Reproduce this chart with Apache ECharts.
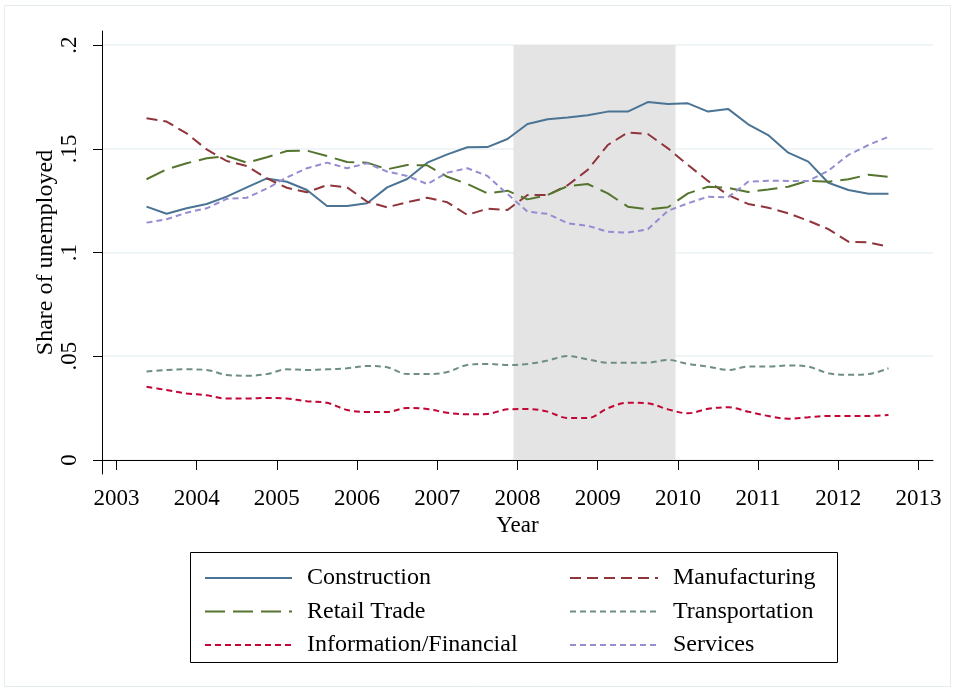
<!DOCTYPE html>
<html>
<head>
<meta charset="utf-8">
<script src="https://cdn.jsdelivr.net/npm/echarts@6/dist/echarts.min.js"></script>
<style>
  html, body { margin: 0; padding: 0; background: #fff; }
  #chart { width: 955px; height: 691px; }
</style>
</head>
<body>
<div id="chart"></div>
<script>
// quarter mid-points
var quarters = [2003.375, 2003.625, 2003.875,
    2004.125, 2004.375, 2004.625, 2004.875,
    2005.125, 2005.375, 2005.625, 2005.875,
    2006.125, 2006.375, 2006.625, 2006.875,
    2007.125, 2007.375, 2007.625, 2007.875,
    2008.125, 2008.375, 2008.625, 2008.875,
    2009.125, 2009.375, 2009.625, 2009.875,
    2010.125, 2010.375, 2010.625, 2010.875,
    2011.125, 2011.375, 2011.625, 2011.875,
    2012.125, 2012.375, 2012.625];

var construction = [.1221, .1187, .1213, .1234, .1269, .1314, .1357, .1341, .1301, .1224,
    .1224, .1237, .1314, .1354, .1433, .1473, .1507, .1508, .1547, .1619,
    .1642, .1651, .1661, .1679, .1679, .1725, .1716, .1719, .1679, .1692,
    .1618, .1566, .1481, .1438, .1336, .1301, .1283, .1283];
var manufacturing = [.1647, .1631, .1574, .1497, .1441, .1417, .1357, .1312, .1290, .1325,
    .1314, .1245, .1218, .1242, .1264, .1242, .1181, .1211, .1205, .1277,
    .1277, .1324, .1398, .1518, .1578, .1571, .1502, .1422, .1345, .1277,
    .1234, .1216, .1189, .1153, .1113, .1052, .1049, .1028];
var retailTrade = [.1353, .1401, .1430, .1454, .1465, .1433, .1459, .1489, .1491, .1465,
    .1436, .1433, .1401, .1422, .1420, .1365, .1330, .1285, .1298, .1256,
    .1277, .1320, .1330, .1285, .1221, .1208, .1218, .1285, .1317, .1312,
    .1292, .1304, .1317, .1346, .1341, .1353, .1375, .1365];
var transportation = [.0426, .0434, .0437, .0434, .0410, .0406, .0414, .0437, .0434, .0437,
    .0442, .0453, .0447, .0414, .0414, .0424, .0458, .0463, .0458, .0463,
    .0479, .0501, .0485, .0469, .0469, .0469, .0482, .0463, .0450, .0434,
    .0450, .0450, .0456, .0450, .0418, .0411, .0414, .0442];
var infoFinancial = [.0353, .0337, .0321, .0312, .0296, .0296, .0299, .0296, .0283, .0276,
    .0241, .0231, .0231, .0251, .0246, .0228, .0220, .0222, .0244, .0246,
    .0233, .0202, .0202, .0249, .0276, .0273, .0244, .0225, .0247, .0254,
    .0233, .0212, .0199, .0206, .0212, .0212, .0212, .0217];
var services = [.1144, .1160, .1192, .1213, .1259, .1264, .1308, .1362, .1406, .1433,
    .1406, .1430, .1390, .1369, .1330, .1385, .1406, .1369, .1282, .1197,
    .1186, .1141, .1129, .1100, .1096, .1112, .1201, .1237, .1269, .1266,
    .1341, .1346, .1345, .1345, .1394, .1470, .1518, .1558];

var recession = [2007.95, 2009.97];
var xTicks = [2003, 2004, 2005, 2006, 2007, 2008, 2009, 2010, 2011, 2012, 2013];
var yTicks = [0, 0.05, 0.1, 0.15, 0.2];
var yTickLabels = ['0', '.05', '.1', '.15', '.2'];

var FONT = '"Liberation Serif", "DejaVu Serif", serif';

function pairs(values) {
    return values.map(function (v, i) { return [quarters[i], v]; });
}

function lineSeries(name, values, color, dash, smooth) {
    return {
        name: name,
        type: 'line',
        data: pairs(values),
        symbol: 'none',
        smooth: smooth || false,
        color: color,
        lineStyle: { color: color, width: 2, type: dash },
        z: 3
    };
}

var legendText = { fontFamily: FONT, fontSize: 24, color: '#000', padding: [0, 0, 0, 10] };

var chart = echarts.init(document.getElementById('chart'));

chart.setOption({
    animation: false,
    backgroundColor: '#fff',
    textStyle: { fontFamily: FONT },
    grid: { left: 102, right: 22, top: 31, bottom: 217 },
    xAxis: {
        type: 'value',
        min: 2002.82,
        max: 2013.18,
        name: 'Year',
        nameLocation: 'middle',
        nameGap: 40,
        nameTextStyle: { fontFamily: FONT, fontSize: 23, color: '#000' },
        axisLine: { show: true, lineStyle: { color: '#000', width: 1 } },
        axisTick: { show: true, length: 10, customValues: xTicks, lineStyle: { color: '#000' } },
        axisLabel: {
            customValues: xTicks,
            fontFamily: FONT, fontSize: 23, color: '#000', margin: 13,
            formatter: function (v) { return String(v); }
        },
        splitLine: { show: false }
    },
    yAxis: {
        type: 'value',
        min: -0.00675,
        max: 0.20675,
        name: 'Share of unemployed',
        nameLocation: 'middle',
        nameGap: 44,
        nameMoveOverlap: false,
        nameTextStyle: { fontFamily: FONT, fontSize: 24, color: '#000' },
        axisLine: { show: true, lineStyle: { color: '#000', width: 1 } },
        axisTick: { show: true, length: 9, customValues: yTicks, lineStyle: { color: '#000' } },
        axisLabel: {
            customValues: yTicks,
            rotate: 90,
            fontFamily: FONT, fontSize: 23, color: '#000', margin: 21,
            formatter: function (v) {
                var k = yTicks.findIndex(function (t) { return Math.abs(t - v) < 1e-9; });
                return k >= 0 ? yTickLabels[k] : '';
            }
        },
        splitLine: { show: true, lineStyle: { color: '#eaf1f3', width: 1.5 } }
    },
    legend: [{
        orient: 'vertical',
        left: 199,
        top: 561,
        itemWidth: 87,
        itemHeight: 14,
        itemGap: 9.5,
        itemStyle: { opacity: 0 },
        data: ['Construction', 'Retail Trade', 'Information/Financial'],
        textStyle: legendText
    }, {
        orient: 'vertical',
        left: 564,
        top: 561,
        itemWidth: 88,
        itemHeight: 14,
        itemGap: 9.5,
        itemStyle: { opacity: 0 },
        data: ['Manufacturing', 'Transportation', 'Services'],
        textStyle: legendText
    }],
    graphic: [{
        type: 'rect',
        shape: { x: 4.5, y: 5.5, width: 946, height: 681 },
        style: { fill: 'none', stroke: '#e4ecef', lineWidth: 1 },
        silent: true
    }, {
        type: 'rect',
        shape: { x: 190.5, y: 552.5, width: 647, height: 110 },
        style: { fill: 'none', stroke: '#000', lineWidth: 1 },
        silent: true
    }],
    series: [
        {
            name: 'recession',
            type: 'line',
            data: [],
            z: 1,
            markArea: {
                silent: true,
                itemStyle: { color: '#e4e4e4' },
                data: [[{ coord: [recession[0], yTicks[0]] }, { coord: [recession[1], yTicks[4]] }]]
            }
        },
        lineSeries('Construction', construction, '#4a7394', 'solid'),
        lineSeries('Manufacturing', manufacturing, '#90353b', [11, 6]),
        lineSeries('Retail Trade', retailTrade, '#55752f', [20, 8]),
        lineSeries('Transportation', transportation, '#6e8e84', [6, 4], 0.35),
        lineSeries('Information/Financial', infoFinancial, '#c10534', [6, 4], 0.35),
        lineSeries('Services', services, '#938dd2', [6, 4])
    ]
});
</script>
</body>
</html>
